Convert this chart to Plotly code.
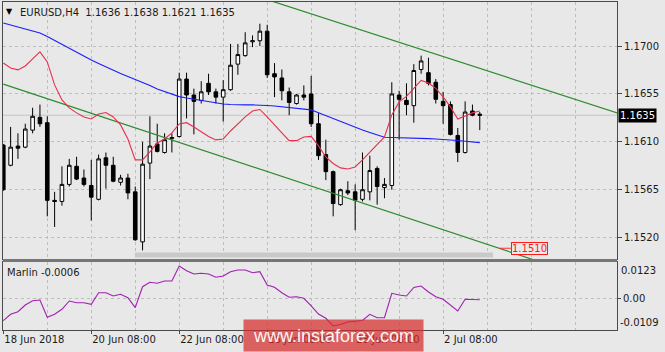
import plotly.graph_objects as go

# ---------------- data ----------------
bar_idx = list(range(66))
opens = [1.1607, 1.1588, 1.1606, 1.1605, 1.1621, 1.1633, 1.1628, 1.1555, 1.1554, 1.1570,
         1.1587, 1.1576, 1.1569, 1.1556, 1.1595, 1.1588, 1.1572, 1.1576, 1.1563, 1.1516,
         1.1590, 1.1608, 1.1600, 1.1613, 1.1615, 1.1669, 1.1654, 1.1649, 1.1665, 1.1657,
         1.1652, 1.1659, 1.1683, 1.1691, 1.1704, 1.1705, 1.1714, 1.1674, 1.1670, 1.1657,
         1.1646, 1.1654, 1.1655, 1.1627, 1.1598, 1.1582, 1.1551, 1.1564, 1.1563, 1.1556,
         1.1563, 1.1585, 1.1567, 1.1569, 1.1654, 1.1649, 1.1644, 1.1678, 1.1675, 1.1666,
         1.1648, 1.1645, 1.1616, 1.1600, 1.1639, 1.1636]
highs = [1.1608, 1.1624, 1.1618, 1.1627, 1.1642, 1.1645, 1.1634, 1.1563, 1.1587, 1.1594,
         1.1596, 1.1584, 1.1593, 1.1598, 1.1600, 1.1596, 1.1579, 1.1580, 1.1568, 1.1610,
         1.1634, 1.1627, 1.1618, 1.1618, 1.1675, 1.1675, 1.1660, 1.1667, 1.1674, 1.1660,
         1.1668, 1.1702, 1.1702, 1.1713, 1.1710, 1.1721, 1.1720, 1.1684, 1.1678, 1.1661,
         1.1655, 1.1663, 1.1672, 1.1637, 1.1612, 1.1583, 1.1566, 1.1573, 1.1570, 1.1600,
         1.1597, 1.1587, 1.1576, 1.1666, 1.1658, 1.1665, 1.1683, 1.1691, 1.1689, 1.1669,
         1.1657, 1.1648, 1.1623, 1.1648, 1.1645, 1.1638]
lows = [1.1564, 1.1587, 1.1594, 1.1604, 1.1618, 1.1624, 1.1540, 1.1530, 1.1550, 1.1568,
        1.1574, 1.1568, 1.1536, 1.1555, 1.1566, 1.1572, 1.1569, 1.1556, 1.1517, 1.1508,
        1.1575, 1.1600, 1.1599, 1.1600, 1.1614, 1.1632, 1.1617, 1.1646, 1.1654, 1.1646,
        1.1629, 1.1658, 1.1673, 1.1690, 1.1699, 1.1700, 1.1670, 1.1652, 1.1649, 1.1635,
        1.1645, 1.1649, 1.1624, 1.1593, 1.1574, 1.1540, 1.1550, 1.1560, 1.1527, 1.1554,
        1.1555, 1.1551, 1.1557, 1.1565, 1.1612, 1.1635, 1.1628, 1.1674, 1.1663, 1.1646,
        1.1627, 1.1616, 1.1591, 1.1599, 1.1634, 1.1621]
closes = [1.1565, 1.1605, 1.1604, 1.1622, 1.1634, 1.1627, 1.1555, 1.1554, 1.1570, 1.1588,
          1.1575, 1.1570, 1.1558, 1.1594, 1.1588, 1.1573, 1.1576, 1.1562, 1.1518, 1.1589,
          1.1606, 1.1601, 1.1612, 1.1614, 1.1669, 1.1654, 1.1648, 1.1657, 1.1657, 1.1652,
          1.1659, 1.1682, 1.1692, 1.1703, 1.1705, 1.1714, 1.1673, 1.1671, 1.1658, 1.1647,
          1.1654, 1.1652, 1.1627, 1.1597, 1.1582, 1.1552, 1.1565, 1.1562, 1.1555, 1.1565,
          1.1583, 1.1568, 1.1570, 1.1655, 1.1650, 1.1645, 1.1677, 1.1686, 1.1665, 1.1650,
          1.1644, 1.1617, 1.1600, 1.1638, 1.1635, 1.1635]

ma_slow = [1.17217, 1.17198, 1.17180, 1.17161, 1.17142, 1.17123, 1.17090, 1.17053, 1.17015, 1.16978,
           1.16940, 1.16902, 1.16869, 1.16837, 1.16804, 1.16771, 1.16743, 1.16714, 1.16686, 1.16663,
           1.16630, 1.16597, 1.16574, 1.16545, 1.16525, 1.16512, 1.16500, 1.16489, 1.16480, 1.16468,
           1.16456, 1.16451, 1.16447, 1.16447, 1.16447, 1.16447, 1.16442, 1.16437, 1.16431, 1.16423,
           1.16417, 1.16409, 1.16400, 1.16374, 1.16346, 1.16318, 1.16290, 1.16264, 1.16235, 1.16212,
           1.16188, 1.16165, 1.16143, 1.16141, 1.16140, 1.16137, 1.16135, 1.16132, 1.16130, 1.16127,
           1.16124, 1.16120, 1.16113, 1.16106, 1.16099, 1.16093]
ma_fast = [1.16841, 1.16794, 1.16776, 1.16813, 1.16879, 1.16945, 1.16851, 1.16635, 1.16494, 1.16419,
           1.16372, 1.16334, 1.16315, 1.16362, 1.16376, 1.16334, 1.16259, 1.16127, 1.15930, 1.15930,
           1.16005, 1.16090, 1.16127, 1.16184, 1.16268, 1.16280, 1.16240, 1.16193, 1.16151, 1.16118,
           1.16127, 1.16202, 1.16268, 1.16334, 1.16390, 1.16404, 1.16334, 1.16264, 1.16184, 1.16111,
           1.16111, 1.16146, 1.16151, 1.16062, 1.15958, 1.15897, 1.15855, 1.15845, 1.15864, 1.15930,
           1.16005, 1.16071, 1.16146, 1.16353, 1.16475, 1.16527, 1.16606, 1.16677, 1.16653, 1.16602,
           1.16522, 1.16428, 1.16315, 1.16343, 1.16372, 1.16390]
marlin = [-0.00773, -0.00554, -0.00466, -0.00237, -0.00090, -0.00067, -0.00657, -0.00554, -0.00384, -0.00101,
          -0.00159, -0.00159, -0.00213, 0.00183, 0.00183, 0.00070, 0.00128, 0.00012, -0.00329, 0.00387,
          0.00537, 0.00503, 0.00582, 0.00582, 0.01094, 0.00933, 0.00821, 0.00844, 0.00821, 0.00708,
          0.00752, 0.00899, 0.00957, 0.00957, 0.00865, 0.00899, 0.00445, 0.00367, 0.00183, 0.00026,
          0.00046, -0.00009, -0.00271, -0.00544, -0.00691, -0.00954, -0.00902, -0.00817, -0.00793, -0.00766,
          -0.00554, -0.00670, -0.00670, 0.00162, 0.00104, 0.00070, 0.00360, 0.00411, 0.00206, 0.00046,
          -0.00043, -0.00237, -0.00442, -0.00043, -0.00050, -0.00060]

upper_x = [30, 84]
upper_y = [1.17570, 1.16366]
lower_x = [0, 80]
lower_y = [1.16642, 1.14817]

label_price = 1.1510
label_bar = 67.7

tick_bars = [0, 12, 24, 36, 48, 60]
tick_labels = ["18 Jun 2018", "20 Jun 08:00", "22 Jun 08:00", "26 Jun 08:00", "28 Jun 08:00", "2 Jul 08:00"]
price_ticks = [1.1520, 1.1565, 1.1610, 1.1655, 1.1700]
ind_max, ind_min = 0.0123, -0.0109

# ---------------- figure ----------------
FONT = "DejaVu Sans"
BG = "#e8e8e8"
GRID = "#bdbdbd"
AX = "#4a4a4a"

fig = go.Figure()

fig.add_trace(go.Scatter(x=upper_x, y=upper_y, mode="lines", xaxis="x2", yaxis="y",
                         line=dict(color="#2e8b2e", width=1.2), hoverinfo="skip", showlegend=False))
fig.add_trace(go.Scatter(x=lower_x, y=lower_y, mode="lines", xaxis="x2", yaxis="y",
                         line=dict(color="#2e8b2e", width=1.2), hoverinfo="skip", showlegend=False))

fig.add_trace(go.Candlestick(
    x=bar_idx, open=opens, high=highs, low=lows, close=closes, xaxis="x2", yaxis="y",
    increasing=dict(line=dict(color="#000000", width=1), fillcolor="#ffffff"),
    decreasing=dict(line=dict(color="#000000", width=1), fillcolor="#000000"),
    whiskerwidth=0, showlegend=False, hoverinfo="skip"))

fig.add_trace(go.Scatter(x=bar_idx, y=ma_slow, mode="lines", xaxis="x2", yaxis="y",
                         line=dict(color="#1c1cff", width=1.1), hoverinfo="skip", showlegend=False))
fig.add_trace(go.Scatter(x=bar_idx, y=ma_fast, mode="lines", xaxis="x2", yaxis="y",
                         line=dict(color="#e5304c", width=1.1), hoverinfo="skip", showlegend=False))

fig.add_trace(go.Scatter(x=bar_idx, y=marlin, mode="lines", xaxis="x", yaxis="y2",
                         line=dict(color="#a020b0", width=1.1), hoverinfo="skip", showlegend=False))

W, H = 665, 352
L, R, T, B = 3, 48, 2, 22
pw, ph = W - L - R, H - T - B
main_bottom_px, ind_top_px = 259, 262
main_dom = [(H - B - main_bottom_px) / ph, 1]
ind_dom = [0, (H - B - ind_top_px) / ph]


def py(px_y):
    return (H - B - px_y) / ph


def pxx(px_x):
    return (px_x - L) / pw


xr = [-0.04, 83.72]
common_x = dict(range=xr, showgrid=True, gridcolor=GRID, griddash="3px,3px", gridwidth=1,
                minor=dict(tickmode="linear", tick0=0, dtick=6, showgrid=True, gridcolor=GRID,
                           griddash="3px,3px", gridwidth=1, ticks=""),
                showline=True, linecolor=AX, linewidth=1, mirror=True, zeroline=False,
                tickmode="array", tickvals=tick_bars)

fig.update_layout(
    width=W, height=H, margin=dict(l=L, r=R, t=T, b=B),
    paper_bgcolor=BG, plot_bgcolor=BG, showlegend=False,
    font=dict(family=FONT, size=10, color="#1a1a1a"),
    xaxis=dict(domain=[0, 1], anchor="y2", ticktext=tick_labels, ticks="outside", ticklen=3,
               tickcolor=AX, ticklabelposition="outside right",
               tickfont=dict(family=FONT, size=10, color="#1a1a1a"), **common_x),
    xaxis2=dict(domain=[0, 1], anchor="y", matches="x", showticklabels=False, ticks="",
                rangeslider=dict(visible=False), **common_x),
    yaxis=dict(domain=main_dom, anchor="x2", side="right", range=[1.14999, 1.17414],
               tickmode="array", tickvals=price_ticks, ticktext=[f"{v:.4f}" for v in price_ticks],
               ticks="outside", ticklen=4, tickcolor=AX,
               showgrid=True, gridcolor=GRID, griddash="3px,3px", gridwidth=1,
               showline=True, linecolor=AX, mirror=True, zeroline=False,
               tickfont=dict(family=FONT, size=10, color="#1a1a1a")),
    yaxis2=dict(domain=ind_dom, anchor="x", side="right", range=[ind_min, ind_max],
                tickmode="array", tickvals=[0], ticktext=["0.00"],
                ticks="outside", ticklen=3, tickcolor=AX,
                showgrid=True, gridcolor=GRID, griddash="3px,3px", gridwidth=1,
                showline=True, linecolor=AX, mirror=True, zeroline=False,
                tickfont=dict(family=FONT, size=10, color="#1a1a1a")),
)

shapes = [
    # current bid line
    dict(type="line", xref="x2 domain", x0=0, x1=1, yref="y", y0=closes[-1], y1=closes[-1],
         line=dict(color="#c4c4c4", width=1), layer="below"),
    # panel separator
    dict(type="rect", xref="paper", x0=0, x1=1, yref="paper", y0=py(ind_top_px), y1=py(main_bottom_px),
         fillcolor="#767676", line=dict(width=0), layer="above"),
    # grey bar at bottom of main panel
    dict(type="rect", xref="x2", x0=17.95, x1=66.8, yref="paper", y0=py(257.5), y1=py(252.5),
         fillcolor="#c9c9c9", line=dict(width=0), layer="above"),
]
fig.update_layout(shapes=shapes)

ann = [
    dict(x=pxx(9), y=py(11.5), xref="paper", yref="paper", text="▼", showarrow=False,
         font=dict(family=FONT, size=8, color="#000000"), xanchor="center", yanchor="middle"),
    dict(x=pxx(18), y=py(12), xref="paper", yref="paper",
         text=f"EURUSD,H4\u00a0\u00a0{opens[-1]:.4f} {highs[-1]:.4f} {lows[-1]:.4f} {closes[-1]:.4f}",
         showarrow=False, font=dict(family=FONT, size=10, color="#1a1a1a"), xanchor="left", yanchor="middle"),
    dict(x=pxx(5), y=py(272.5), xref="paper", yref="paper", text=f"Marlin {marlin[-1]:.4f}",
         showarrow=False, font=dict(family=FONT, size=10, color="#1a1a1a"), xanchor="left", yanchor="middle"),
    dict(x=pxx(619), y=py(270.7), xref="paper", yref="paper", text=f"{ind_max:.4f}",
         showarrow=False, font=dict(family=FONT, size=10, color="#1a1a1a"), xanchor="left", yanchor="middle"),
    dict(x=pxx(618), y=py(322.7), xref="paper", yref="paper", text=f"{ind_min:.4f}",
         showarrow=False, font=dict(family=FONT, size=10, color="#1a1a1a"), xanchor="left", yanchor="middle"),
    # current price box
    dict(x=1, xref="paper", y=closes[-1], yref="y", text=f"{closes[-1]:.4f}", showarrow=False,
         xanchor="left", yanchor="middle", xshift=1, bgcolor="#000000", borderpad=1,
         font=dict(family=FONT, size=10, color="#ffffff")),
    # channel price label
    dict(x=label_bar, xref="x2", y=label_price, yref="y", text=f"{label_price:.4f}", showarrow=True,
         ax=30, ay=0, arrowhead=0, arrowwidth=1, arrowcolor="#ff3030", standoff=0,
         bordercolor="#ff1a1a", borderwidth=1, borderpad=0, bgcolor=BG,
         font=dict(family=FONT, size=10, color="#ff1a1a")),
    # watermark
    dict(x=pxx(333.5), y=py(335.5), xref="paper", yref="paper", text="www.instaforex.com",
         showarrow=False, width=177, height=29, bgcolor="rgba(214,45,45,0.72)",
         font=dict(family="Liberation Sans", size=18, color="rgba(255,255,255,0.95)"),
         xanchor="center", yanchor="middle"),
]
fig.update_layout(annotations=ann)

fig.write_html("out.html")
